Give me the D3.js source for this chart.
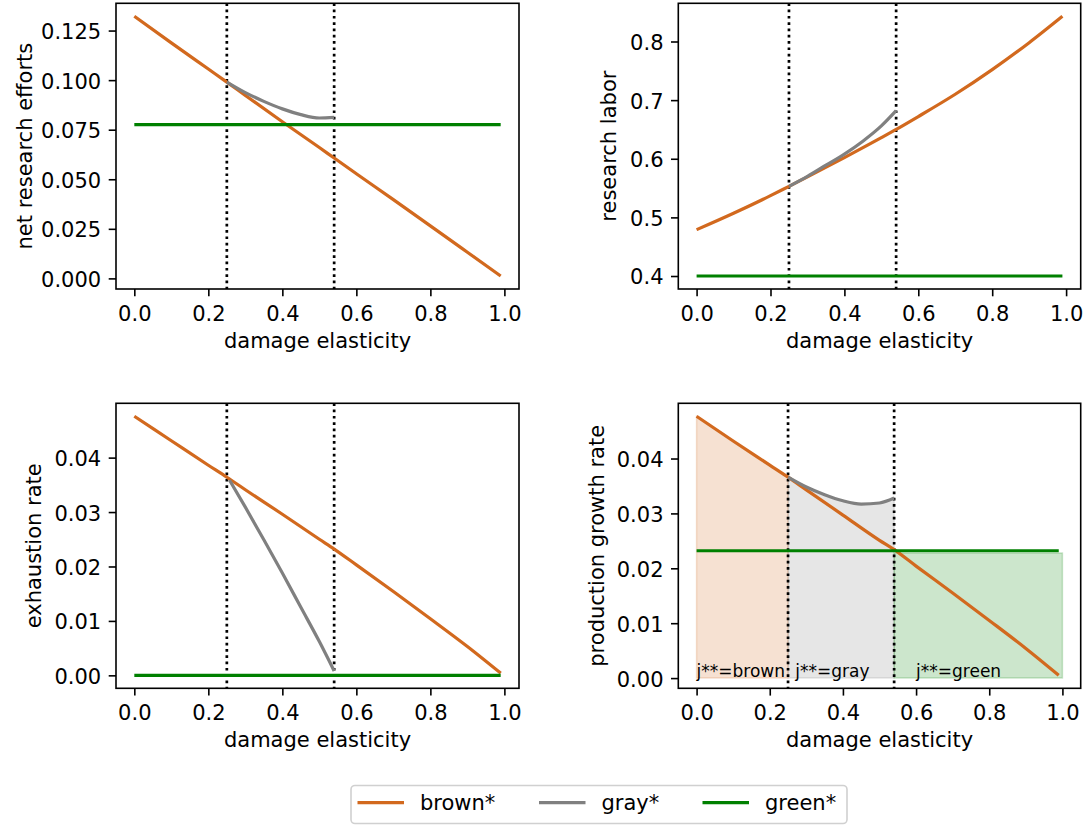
<!DOCTYPE html>
<html>
<head>
<meta charset="utf-8">
<script src="https://cdn.jsdelivr.net/npm/d3@7"></script>
<style>
  html, body { margin: 0; padding: 0; background: #fff; }
  svg { display: block; font-family: "DejaVu Sans", sans-serif; }
</style>
</head>
<body>
<svg id="chart" width="1086" height="825"></svg>
<script>
// ---- data ----
var xBrown = [0, 0.1, 0.2, 0.25, 0.3, 0.4, 0.5, 0.54, 0.6, 0.7, 0.8, 0.9, 0.99];
var xGray = [0.25, 0.3, 0.35, 0.4, 0.45, 0.5, 0.54];
var xGreen = [0, 0.99];
var cutoffs = [0.25, 0.54];

// net research efforts
var effortBrown = [0.1322, 0.1188, 0.1056, 0.0990, 0.0923, 0.0790, 0.0660, 0.0607, 0.0528, 0.0397, 0.0265, 0.0132, 0.0012];
var effortGray = [0.0990, 0.0937, 0.0893, 0.0855, 0.0826, 0.0809, 0.0812];
var effortGreen = [0.0776, 0.0776];

// research labor
var laborBrown = [0.479, 0.507, 0.537, 0.553, 0.569, 0.602, 0.636, 0.650, 0.672, 0.710, 0.752, 0.798, 0.843];
var laborGray = [0.553, 0.570, 0.589, 0.608, 0.630, 0.656, 0.682];
var laborGreen = [0.400, 0.400];

// exhaustion rate
var exhaustBrown = [0.0476, 0.0431, 0.0386, 0.0364, 0.0341, 0.0296, 0.0250, 0.0232, 0.0203, 0.0154, 0.0104, 0.0053, 0.0004];
var xGrayExhaust = [0.257, 0.3, 0.35, 0.4, 0.45, 0.5, 0.54];
var exhaustGray = [0.0359, 0.0309, 0.0249, 0.0188, 0.0125, 0.0062, 0.0008];
var exhaustGreen = [0, 0];

// production growth rate
var prodBrown = [0.0477, 0.0432, 0.0388, 0.0366, 0.0343, 0.0297, 0.0251, 0.0234, 0.0204, 0.0155, 0.0105, 0.0054, 0.0005];
var prodGray = [0.0366, 0.0348, 0.0334, 0.0323, 0.0317, 0.0319, 0.0328];
var prodGreen = [0.0232, 0.0232];
var greenFillX = [0.54, 1.0];
var greenFillTop = [0.0228, 0.0228];

var regionLabels = ['j**=brown', 'j**=gray', 'j**=green'];
var regionLabelX = [0.0, 0.27, 0.6];

var seriesNames = ['brown*', 'gray*', 'green*'];
var seriesColors = ['#d2691e', '#808080', '#008000'];

var xTicks = [0, 0.2, 0.4, 0.6, 0.8, 1.0];
var yTicksEffort = [0, 0.025, 0.05, 0.075, 0.1, 0.125];
var yTicksLabor = [0.4, 0.5, 0.6, 0.7, 0.8];
var yTicksRate = [0, 0.01, 0.02, 0.03, 0.04];

// ---- layout ----
var FS = 21;
var LW = 3.2;
var svg = d3.select('#chart');

var panels = [
  { box: [116, 3.3, 403, 285.7], ylabel: 'net research efforts', labelX: 32, yTicks: yTicksEffort, fmt: '.3f',
    brown: effortBrown, grayX: xGray, gray: effortGray, green: effortGreen },
  { box: [678.3, 3.3, 402.4, 285.7], ylabel: 'research labor', labelX: 616, yTicks: yTicksLabor, fmt: '.1f',
    brown: laborBrown, grayX: xGray, gray: laborGray, green: laborGreen },
  { box: [116, 403.3, 403, 285], ylabel: 'exhaustion rate', labelX: 41, yTicks: yTicksRate, fmt: '.2f',
    brown: exhaustBrown, grayX: xGrayExhaust, gray: exhaustGray, green: exhaustGreen },
  { box: [678.3, 403.3, 402.4, 285], ylabel: 'production growth rate', labelX: 604, yTicks: yTicksRate, fmt: '.2f',
    brown: prodBrown, grayX: xGray, gray: prodGray, green: prodGreen, fills: true }
];

function padded(lo, hi) {
  var m = (hi - lo) * 0.05;
  return [lo - m, hi + m];
}

panels.forEach(function(p) {
  var bx = p.box[0], by = p.box[1], bw = p.box[2], bh = p.box[3];
  var allX = xBrown.concat(p.grayX, xGreen, p.fills ? greenFillX : []);
  var allY = p.brown.concat(p.gray, p.green);
  var x = d3.scaleLinear().domain(padded(d3.min(allX), d3.max(allX))).range([bx, bx + bw]);
  var y = d3.scaleLinear().domain(padded(d3.min(allY), d3.max(allY))).range([by + bh, by]);

  var g = svg.append('g');

  var line = d3.line().curve(d3.curveMonotoneX)
    .x(function(d) { return x(d[0]); }).y(function(d) { return y(d[1]); });
  var area = d3.area().curve(d3.curveMonotoneX)
    .x(function(d) { return x(d[0]); }).y0(y(0)).y1(function(d) { return y(d[1]); });

  if (p.fills) {
    var brownPart = d3.zip(xBrown, p.brown).filter(function(d) { return d[0] <= cutoffs[0]; });
    var fillSets = [
      [brownPart, seriesColors[0]],
      [d3.zip(p.grayX, p.gray), seriesColors[1]],
      [d3.zip(greenFillX, greenFillTop), seriesColors[2]]
    ];
    fillSets.forEach(function(f) {
      g.append('path').attr('d', area(f[0]))
        .attr('fill', f[1]).attr('fill-opacity', 0.2)
        .attr('stroke', f[1]).attr('stroke-opacity', 0.2).attr('stroke-width', 1.5);
    });
  }

  // dotted regime boundaries
  g.selectAll('.cut').data(cutoffs).join('line')
    .attr('x1', function(d) { return x(d); }).attr('x2', function(d) { return x(d); })
    .attr('y1', by).attr('y2', by + bh)
    .attr('stroke', '#000').attr('stroke-width', 2.7).attr('stroke-dasharray', '2.7,3.6');

  var lines = [
    [d3.zip(xBrown, p.brown), seriesColors[0]],
    [d3.zip(p.grayX, p.gray), seriesColors[1]],
    [d3.zip(xGreen, p.green), seriesColors[2]]
  ];
  lines.forEach(function(l) {
    g.append('path').attr('d', line(l[0])).attr('fill', 'none')
      .attr('stroke', l[1]).attr('stroke-width', LW);
  });

  if (p.fills) {
    g.selectAll('.reg').data(regionLabels).join('text')
      .attr('x', function(d, i) { return x(regionLabelX[i]); })
      .attr('y', y(0) - 1)
      .attr('font-size', 17).attr('fill', '#000')
      .text(function(d) { return d; });
  }

  // axes
  var xa = g.append('g').attr('transform', 'translate(0,' + (by + bh) + ')')
    .call(d3.axisBottom(x).tickValues(xTicks).tickFormat(d3.format('.1f')).tickSize(7.3).tickSizeOuter(0).tickPadding(9.3));
  var ya = g.append('g').attr('transform', 'translate(' + bx + ',0)')
    .call(d3.axisLeft(y).tickValues(p.yTicks).tickFormat(d3.format(p.fmt)).tickSize(7.3).tickSizeOuter(0).tickPadding(7.5));
  [xa, ya].forEach(function(a) {
    a.select('.domain').remove();
    a.selectAll('line').attr('stroke', '#000').attr('stroke-width', 1.6);
    a.selectAll('text').attr('font-size', FS).attr('fill', '#000').attr('font-family', 'DejaVu Sans');
  });
  ya.selectAll('text').attr('dy', '0.38em');

  g.append('rect').attr('x', bx).attr('y', by).attr('width', bw).attr('height', bh)
    .attr('fill', 'none').attr('stroke', '#000').attr('stroke-width', 1.6);

  g.append('text').attr('x', bx + bw / 2).attr('y', by + bh + 58.5)
    .attr('text-anchor', 'middle').attr('font-size', FS).text('damage elasticity');

  g.append('text').attr('transform', 'translate(' + p.labelX + ',' + (by + bh / 2) + ') rotate(-90)')
    .attr('text-anchor', 'middle').attr('font-size', FS).text(p.ylabel);
});

// legend
var leg = svg.append('g');
leg.append('rect').attr('x', 351).attr('y', 785.5).attr('width', 496).attr('height', 38)
  .attr('rx', 4).attr('fill', '#fff').attr('fill-opacity', 0.8)
  .attr('stroke', '#d0d0d0').attr('stroke-width', 1.6);
var legX = [357.5, 539, 702.5];
seriesNames.forEach(function(name, i) {
  leg.append('line').attr('x1', legX[i]).attr('x2', legX[i] + 46.5)
    .attr('y1', 802.7).attr('y2', 802.7)
    .attr('stroke', seriesColors[i]).attr('stroke-width', LW);
  leg.append('text').attr('x', legX[i] + 62.5).attr('y', 810)
    .attr('font-size', FS).text(name);
});
</script>
</body>
</html>
